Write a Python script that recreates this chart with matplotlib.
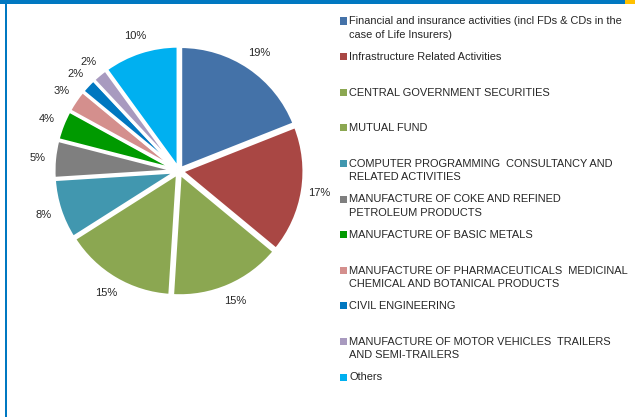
import matplotlib
matplotlib.use("Agg")
import matplotlib.pyplot as plt
from matplotlib.patches import Rectangle

plt.rcParams['font.family'] = ['Liberation Sans', 'DejaVu Sans']

categories = [
    "Financial and insurance activities (incl FDs & CDs in the\ncase of Life Insurers)",
    "Infrastructure Related Activities",
    "CENTRAL GOVERNMENT SECURITIES",
    "MUTUAL FUND",
    "COMPUTER PROGRAMMING  CONSULTANCY AND\nRELATED ACTIVITIES",
    "MANUFACTURE OF COKE AND REFINED\nPETROLEUM PRODUCTS",
    "MANUFACTURE OF BASIC METALS",
    "MANUFACTURE OF PHARMACEUTICALS  MEDICINAL\nCHEMICAL AND BOTANICAL PRODUCTS",
    "CIVIL ENGINEERING",
    "MANUFACTURE OF MOTOR VEHICLES  TRAILERS\nAND SEMI-TRAILERS",
    "Others",
]
values = [19, 17, 15, 15, 8, 5, 4, 3, 2, 2, 10]
value_labels = ["19%", "17%", "15%", "15%", "8%", "5%", "4%", "3%", "2%", "2%", "10%"]
colors = ["#4472A8", "#A94744", "#8BA751", "#8BA751", "#4197AF", "#7F7F7F",
          "#009A00", "#D48F8D", "#0077C0", "#A89ABF", "#00B0F0"]

W, H = 635, 417
fig = plt.figure(figsize=(W / 100, H / 100), dpi=100)
fig.patch.set_facecolor("white")

cx, cy, r = 179, 171, 122
ax = fig.add_axes([(cx - 150) / W, 1 - (cy + 150) / H, 300 / W, 300 / H])
wedges, texts = ax.pie(values, colors=colors, startangle=90, counterclock=False,
                       labels=value_labels, labeldistance=1.14, radius=r / 150,
                       explode=[0.02] * len(values),
                       wedgeprops=dict(edgecolor="white", linewidth=2.2),
                       textprops=dict(fontsize=8, color="#262626"))
for t in texts:
    t.set_ha("center")
    t.set_va("center")
ax.set_xlim(-1, 1)
ax.set_ylim(-1, 1)
ax.set_aspect("equal")
ax.axis("off")

lx_marker = 340
lx_text = 349
y0 = 21
step = 35.6
for i, (lab, col) in enumerate(zip(categories, colors)):
    y = y0 + i * step
    fig.patches.append(Rectangle((lx_marker / W, 1 - (y + 3.5) / H), 7 / W, 7 / H,
                                 transform=fig.transFigure, facecolor=col,
                                 edgecolor="none"))
    fig.text(lx_text / W, 1 - (y - 4.5) / H, lab, fontsize=7.9, color="#262626",
             va="top", ha="left", linespacing=1.45)

fig.patches.append(Rectangle((0, 1 - 3.5 / H), 625 / W, 3.5 / H, transform=fig.transFigure,
                             facecolor="#0078C1", edgecolor="none"))
fig.patches.append(Rectangle((625 / W, 1 - 3.5 / H), 10 / W, 3.5 / H, transform=fig.transFigure,
                             facecolor="#FFC000", edgecolor="none"))
fig.patches.append(Rectangle((5 / W, 0), 2 / W, 1 - 3.5 / H, transform=fig.transFigure,
                             facecolor="#0078C1", edgecolor="none"))

fig.savefig("out.png", dpi=100)
